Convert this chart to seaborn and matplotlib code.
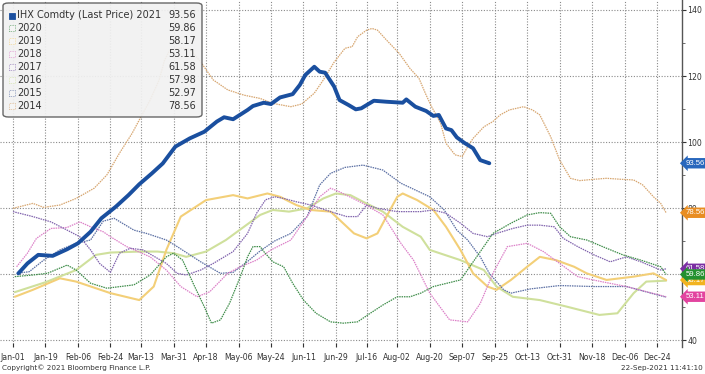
import numpy as np
import pandas as pd
import matplotlib
matplotlib.use("Agg")
import matplotlib.pyplot as plt
import matplotlib.transforms as mtransforms
from matplotlib.patches import FancyBboxPatch, Rectangle
import seaborn as sns

# ---------------- data ----------------
tick_days = [0, 18, 36, 54, 71, 89, 107, 125, 143, 161, 179, 196, 213, 231,
             249, 267, 285, 303, 321, 339, 357]
tick_labels = ["Jan-01", "Jan-19", "Feb-06", "Feb-24", "Mar-13", "Mar-31",
               "Apr-18", "May-06", "May-24", "Jun-11", "Jun-29", "Jul-16",
               "Aug-02", "Aug-20", "Sep-07", "Sep-25", "Oct-13", "Oct-31",
               "Nov-18", "Dec-06", "Dec-24"]

days_2021 = [3, 8, 14, 22, 30, 36, 43, 49, 57, 64, 70, 77, 83, 90, 98, 106, 113,
             117, 122, 130, 133, 139, 143, 148, 155, 159, 162, 167, 170, 173,
             178, 181, 186, 190, 193, 200, 207, 216, 218, 223, 229, 233, 236,
             240, 243, 246, 250, 255, 259, 264]
vals_2021 = [60.2, 63.2, 65.8, 65.5, 67.5, 69.3, 72.8, 76.9, 80.4, 83.9, 87.2,
             90.5, 93.5, 98.6, 101.1, 103.1, 106.2, 107.5, 106.9, 109.7, 110.9,
             111.9, 111.5, 113.5, 114.5, 117.3, 120.3, 122.8, 121.3, 121.0,
             116.8, 112.7, 111.2, 109.9, 110.2, 112.5, 112.2, 111.9, 112.9,
             110.7, 109.4, 107.9, 108.2, 104.1, 103.6, 101.4, 99.8, 98.1, 94.5,
             93.56]

days_2020 = [1, 11, 19, 30, 35, 43, 52, 67, 76, 85, 89, 94, 100, 106, 110, 115,
             120, 126, 130, 133, 137, 139, 144, 150, 155, 161, 168, 176, 183,
             191, 198, 205, 213, 220, 226, 233, 248, 257, 266, 276, 285, 292,
             298, 303, 309, 318, 329, 338, 348, 359, 362]
vals_2020 = [59.2, 59.7, 60.2, 62.7, 61.2, 57.2, 55.7, 56.7, 59.7, 65.2, 66.3,
             64.2, 57.0, 50.1, 45.1, 46.1, 51.1, 59.2, 65.2, 68.3, 68.3, 66.8,
             63.7, 62.2, 57.2, 52.1, 48.1, 45.5, 45.1, 45.5, 48.1, 50.6, 53.1,
             53.1, 54.2, 56.2, 58.2, 65.2, 72.3, 75.4, 77.9, 78.6, 78.4, 74.3,
             71.3, 70.3, 67.8, 65.8, 64.2, 62.2, 59.86]

days_2019 = [1, 11, 26, 35, 54, 70, 78, 85, 93, 107, 122, 130, 141, 148, 157,
             165, 176, 181, 189, 196, 202, 207, 213, 216, 224, 233, 240, 248,
             255, 263, 268, 276, 285, 292, 301, 311, 318, 329, 344, 355, 362]
vals_2019 = [53.1, 55.2, 58.7, 57.7, 54.2, 52.1, 56.2, 67.3, 77.4, 82.4, 83.9,
             82.9, 84.4, 83.4, 80.9, 79.4, 78.9, 76.4, 72.3, 70.8, 72.3, 77.4,
             83.4, 84.4, 82.4, 79.4, 74.3, 67.3, 60.2, 56.2, 55.2, 58.2, 62.2,
             65.2, 64.2, 62.2, 60.2, 58.2, 59.2, 60.2, 58.17]

days_2018 = [2, 8, 13, 21, 30, 37, 43, 50, 54, 63, 76, 85, 93, 102, 109, 119,
             126, 135, 143, 154, 163, 170, 176, 181, 194, 205, 215, 222, 231,
             242, 252, 259, 266, 274, 285, 294, 303, 313, 326, 340, 362]
vals_2018 = [62.2, 66.3, 70.8, 73.8, 74.1, 75.8, 74.3, 72.8, 71.3, 68.3, 65.2,
             61.2, 56.2, 53.1, 54.6, 60.2, 62.2, 64.2, 67.3, 70.3, 77.4, 83.4,
             86.0, 84.9, 81.4, 77.9, 69.3, 64.2, 54.2, 46.1, 45.5, 51.1, 60.2,
             68.3, 69.3, 66.8, 63.2, 59.2, 57.7, 56.2, 53.11]

days_2017 = [0, 11, 21, 30, 37, 43, 48, 54, 59, 65, 72, 85, 91, 96, 104, 111,
             122, 130, 135, 140, 145, 150, 157, 165, 176, 185, 191, 196, 202,
             213, 226, 233, 240, 248, 255, 263, 268, 277, 285, 292, 300, 305,
             313, 322, 331, 340, 348, 359, 362]
vals_2017 = [78.9, 77.4, 75.8, 73.3, 71.3, 67.3, 63.2, 60.5, 66.3, 67.8, 67.3,
             63.2, 60.2, 59.7, 61.2, 63.2, 66.8, 72.3, 78.4, 82.5, 83.4, 82.9,
             81.9, 80.9, 78.9, 77.4, 77.4, 80.9, 79.9, 78.9, 78.9, 79.4, 78.4,
             75.4, 72.3, 71.3, 72.3, 73.8, 74.8, 74.8, 74.3, 70.8, 68.3, 65.8,
             63.7, 65.2, 63.7, 61.2, 61.58]

days_2016 = [1, 18, 35, 46, 54, 70, 80, 89, 96, 107, 118, 128, 137, 144, 153,
             163, 172, 179, 187, 194, 205, 216, 226, 231, 248, 261, 268, 277,
             292, 307, 325, 335, 344, 351, 362]
vals_2016 = [54.5, 57.5, 61.2, 65.8, 66.5, 66.8, 66.8, 66.3, 65.2, 66.8, 70.3,
             74.3, 77.9, 79.4, 78.9, 79.9, 82.9, 84.4, 83.9, 81.9, 78.9, 74.3,
             71.3, 67.3, 64.2, 61.2, 56.2, 53.1, 52.1, 50.1, 47.6, 48.1, 54.2,
             57.7, 57.98]

days_2015 = [2, 9, 17, 26, 35, 43, 50, 56, 67, 74, 85, 91, 104, 115, 122, 130,
             137, 145, 154, 163, 170, 176, 184, 194, 205, 215, 231, 239, 246,
             252, 259, 264, 272, 276, 287, 303, 322, 340, 362]
vals_2015 = [60.2, 60.7, 64.2, 67.3, 69.3, 70.3, 76.0, 76.9, 73.3, 72.3, 70.3,
             68.3, 63.7, 60.2, 60.5, 63.8, 67.0, 70.0, 72.3, 77.4, 87.0, 90.5,
             92.3, 93.0, 91.5, 87.5, 83.4, 79.4, 73.3, 70.3, 65.2, 60.2, 55.2,
             54.2, 55.5, 56.5, 56.2, 56.2, 52.97]

days_2014 = [0, 11, 17, 26, 35, 45, 52, 59, 66, 71, 76, 81, 84, 87, 93, 98, 104,
             111, 119, 128, 137, 144, 154, 160, 167, 172, 178, 184, 188, 191,
             196, 199, 202, 207, 214, 220, 225, 229, 232, 237, 240, 245, 249,
             252, 255, 261, 266, 270, 275, 279, 283, 288, 292, 298, 303, 309,
             314, 322, 329, 337, 344, 349, 355, 359, 362]
vals_2014 = [79.9, 81.4, 80.2, 80.9, 82.9, 86.0, 90.0, 96.6, 102.6, 107.7, 112.7,
             118.8, 124.8, 127.9, 128.5, 128.2, 124.3, 118.8, 115.8, 114.2,
             113.2, 111.7, 110.7, 111.5, 114.8, 118.8, 124.2, 128.4, 128.9,
             131.9, 133.9, 134.4, 133.9, 130.9, 126.9, 122.3, 119.3, 114.2,
             110.7, 105.7, 99.6, 96.1, 95.6, 98.6, 101.1, 104.6, 106.2, 108.2,
             109.7, 110.2, 110.7, 109.7, 108.2, 101.6, 94.5, 89.0, 88.3, 88.7,
             89.0, 88.7, 88.5, 87.0, 83.4, 81.4, 78.56]

legend_names = ["IHX Comdty (Last Price) 2021", "2020", "2019", "2018", "2017",
                "2016", "2015", "2014"]
legend_values = ["93.56", "59.86", "58.17", "53.11", "61.58", "57.98", "52.97",
                 "78.56"]

y_ticks = [40, 60, 80, 100, 120, 140]

# ---------------- styles ----------------
colors = {
    "2021": "#1a4f9f", "2020": "#3f8d4a", "2019": "#f3cf78", "2018": "#dc80c8",
    "2017": "#8063ad", "2016": "#cfe09c", "2015": "#5b6fa3", "2014": "#d7a670",
}
tag_colors = {
    "2021": "#2867bd", "2020": "#23912f", "2019": "#f2b320", "2018": "#e2449f",
    "2017": "#7b2ea3", "2014": "#e88d22",
}
DOT = (0, (1.2, 0.7))
series = [
    ("2014", days_2014, vals_2014, 0.9, DOT),
    ("2016", days_2016, vals_2016, 1.5, "-"),
    ("2019", days_2019, vals_2019, 1.5, "-"),
    ("2015", days_2015, vals_2015, 0.9, DOT),
    ("2018", days_2018, vals_2018, 0.9, DOT),
    ("2017", days_2017, vals_2017, 0.9, DOT),
    ("2020", days_2020, vals_2020, 0.9, DOT),
    ("2021", days_2021, vals_2021, 2.8, "-"),
]

sns.set_theme(style="white")
plt.rcParams["font.family"] = ["DejaVu Sans"]

W, H = 705, 374
fig = plt.figure(figsize=(W / 100, H / 100), dpi=100)
ax_right_px, ax_bottom_px = 682, 347
ax = fig.add_axes([0, (H - ax_bottom_px) / H, ax_right_px / W, ax_bottom_px / H])

for name, d, v, lw, ls in series:
    df = pd.DataFrame({"day": d, "value": v})
    sns.lineplot(data=df, x="day", y="value", ax=ax, color=colors[name],
                 lw=lw, linestyle=ls, estimator=None, sort=False,
                 zorder=5 if name == "2021" else 3)

ax.set_xlim(-7.2, 370.8)
ax.set_ylim(37.88, 143.03)
ax.set_xlabel("")
ax.set_ylabel("")

ax.set_xticks(tick_days)
ax.set_xticklabels(tick_labels)
ax.set_yticks(y_ticks)
ax.set_yticks([50, 70, 90, 110, 130], minor=True)
ax.yaxis.tick_right()
ax.grid(True, which="major", color="#8a8a8a", linestyle=(0, (1, 1.5)), lw=0.8)
ax.tick_params(axis="x", which="major", direction="in", length=3, width=0.8,
               colors="#333333", labelsize=5.6, pad=4, bottom=True)
ax.tick_params(axis="y", which="major", direction="out", length=3, width=0.8,
               colors="#333333", labelsize=5.6, pad=1, right=True, left=False)
ax.tick_params(axis="y", which="minor", direction="out", length=2, width=0.6,
               colors="#555555", right=True, left=False)
for s in ["top", "left", "bottom"]:
    ax.spines[s].set_visible(False)
ax.spines["right"].set_color("#555555")
ax.spines["right"].set_linewidth(1.0)

# ---------------- value tags on the right ----------------
tag_order = ["2018", "2019", "2017", "2020", "2014", "2021"]
name_to_val = dict(zip(["2021", "2020", "2019", "2018", "2017", "2016", "2015",
                        "2014"], [float(v) for v in legend_values]))
btrans = mtransforms.blended_transform_factory(ax.transAxes, ax.transData)
for nm in tag_order:
    val = name_to_val[nm]
    ax.annotate(f"{val:.2f}", xy=(1.0, val), xycoords=btrans,
                xytext=(2.6, 0), textcoords="offset points",
                ha="left", va="center", fontsize=5.6, color="white",
                family=["Liberation Sans", "DejaVu Sans"],
                bbox=dict(boxstyle="larrow,pad=0.22", fc=tag_colors[nm],
                          ec="none"),
                annotation_clip=False, zorder=10)

# ---------------- legend box ----------------
def ax_xy(px, py):
    return px / ax_right_px, 1 - py / ax_bottom_px

x0, y0 = ax_xy(3, 117)
x1, y1 = ax_xy(202, 3)
box = FancyBboxPatch((x0, y0), x1 - x0, y1 - y0, transform=ax.transAxes,
                     boxstyle="round,pad=0,rounding_size=0.008",
                     fc="#f1f1f1", ec="#5a5a5a", lw=1.0, alpha=0.92, zorder=8)
ax.add_patch(box)

legend_keys = ["2021", "2020", "2019", "2018", "2017", "2016", "2015", "2014"]
for i, (nm, val, key) in enumerate(zip(legend_names, legend_values, legend_keys)):
    py = 15.5 + i * 12.9
    tx, ty = ax_xy(17, py)
    ax.text(tx, ty, nm, transform=ax.transAxes, fontsize=7.0, color="#333333",
            ha="left", va="center", zorder=9)
    vx, _ = ax_xy(196, py)
    ax.text(vx, ty, val, transform=ax.transAxes, fontsize=7.0, color="#333333",
            ha="right", va="center", zorder=9)
    sx, sy = ax_xy(9, py + 3)
    sw = 6 / ax_right_px
    sh = 6 / ax_bottom_px
    if key == "2021":
        rect = Rectangle((sx, sy), sw, sh, transform=ax.transAxes,
                         fc=colors[key], ec=colors[key], lw=0.6, zorder=9)
    else:
        rect = Rectangle((sx, sy), sw, sh, transform=ax.transAxes,
                         fc="#f7f7f7", ec=colors[key], lw=0.6,
                         linestyle=(0, (1, 1)), alpha=0.7, zorder=9)
    ax.add_patch(rect)

# ---------------- footer ----------------
fig.text(2 / W, 1 - 368 / H, "Copyright\u00a9 2021 Bloomberg Finance L.P.",
         fontsize=5.2, color="#333333", ha="left", va="center")
fig.text(1 - 2 / W, 1 - 368 / H, "22-Sep-2021 11:41:10",
         fontsize=5.2, color="#333333", ha="right", va="center")

fig.savefig("out.png", dpi=100, facecolor="white")
